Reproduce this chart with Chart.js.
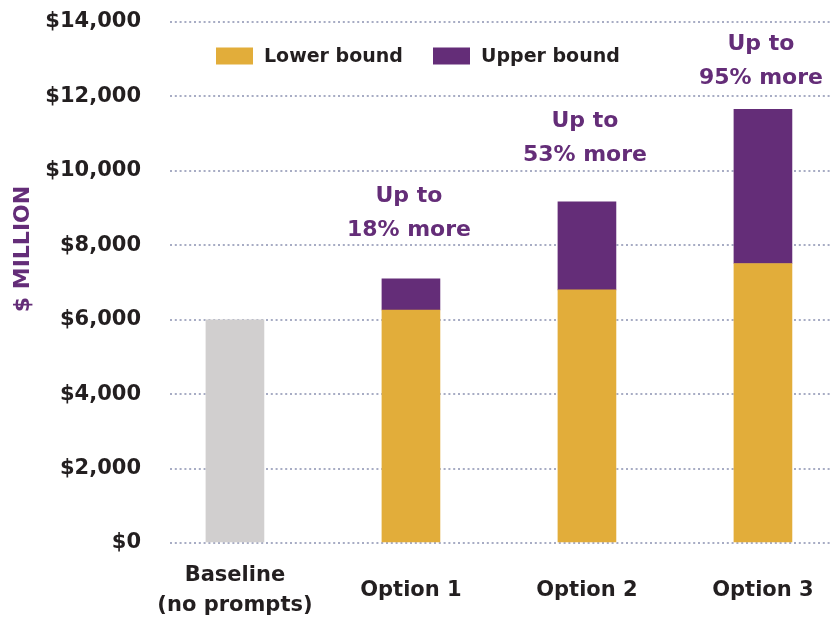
<!DOCTYPE html>
<html><head><meta charset="utf-8">
<script src="https://cdn.jsdelivr.net/npm/chart.js@4"></script>
<style>html,body{margin:0;padding:0;background:#fff;overflow:hidden}#wrap{width:837px;height:618px;position:relative}</style>
</head><body><div id="wrap"><canvas id="c" width="837" height="618"></canvas></div>
<script>
// ---- data ----
const categories = [['Baseline', '(no prompts)'], 'Option 1', 'Option 2', 'Option 3'];
const baselineValues = [6000, null, null, null];
const lowerBound = [null, 6260, 6800, 7510];
const upperBoundTotal = [null, 7100, 9170, 11650];
const annotationLines = [null, ['Up to', '18% more'], ['Up to', '53% more'], ['Up to', '95% more']];
const legendLabels = ['Lower bound', 'Upper bound'];
const yAxisTitle = '$ MILLION';
const yTickValues = [0, 2000, 4000, 6000, 8000, 10000, 12000, 14000];

// ---- style ----
const FONT = "'DejaVu Sans', sans-serif";
const COLORS = { gold: '#e2ad3a', purple: '#642d78', gray: '#d1cfcf', text: '#231f20', grid: '#a7acc4' };
const annotationGap = [0, 48, 46, 31]; // px above bar top for second line

const pts = (arr) => arr.map((v, i) => (v == null ? null : { x: i, y: v })).filter(Boolean);

const overlayPlugin = {
  id: 'overlay',
  afterDatasetsDraw(chart) {
    const { ctx, chartArea } = chart;
    const xs = chart.scales.x, ys = chart.scales.y;
    ctx.save();
    // annotations
    ctx.fillStyle = COLORS.purple;
    ctx.font = `bold 22px ${FONT}`;
    ctx.textAlign = 'center';
    ctx.textBaseline = 'middle';
    annotationLines.forEach((lines, i) => {
      if (!lines) return;
      const cx = xs.getPixelForValue(i) - 2;
      const top = ys.getPixelForValue(upperBoundTotal[i]);
      const y2 = top - annotationGap[i];
      ctx.fillText(lines[0], cx, y2 - 34);
      ctx.fillText(lines[1], cx, y2);
    });
    // legend
    const items = [
      { label: legendLabels[0], color: COLORS.gold, x: chartArea.left + 46 },
      { label: legendLabels[1], color: COLORS.purple, x: chartArea.left + 263 }
    ];
    ctx.font = `bold 19px ${FONT}`;
    ctx.textAlign = 'left';
    const cy = chartArea.top + 34;
    items.forEach(it => {
      ctx.fillStyle = it.color;
      ctx.fillRect(it.x, cy - 8.5, 37, 17);
      ctx.fillStyle = COLORS.text;
      ctx.fillText(it.label, it.x + 48, cy + 1);
    });
    // y axis title
    ctx.translate(23, 249);
    ctx.rotate(-Math.PI / 2);
    ctx.fillStyle = COLORS.purple;
    ctx.font = `bold 22px ${FONT}`;
    ctx.textAlign = 'center';
    ctx.fillText(yAxisTitle, 0, 0);
    ctx.restore();
  }
};

new Chart(document.getElementById('c'), {
  type: 'bar',
  data: {
    datasets: [
      { label: 'Baseline', data: pts(baselineValues), backgroundColor: COLORS.gray, barThickness: 58 },
      { label: legendLabels[0], data: pts(lowerBound), backgroundColor: COLORS.gold, barThickness: 58 },
      { label: legendLabels[1], data: pts(upperBoundTotal.map((t, i) => (t == null ? null : t - lowerBound[i]))), backgroundColor: COLORS.purple, barThickness: 58 }
    ]
  },
  options: {
    responsive: false,
    animation: false,
    layout: { padding: { top: 22, right: 7, left: 0, bottom: 0 } },
    plugins: { legend: { display: false }, tooltip: { enabled: false } },
    scales: {
      x: {
        type: 'linear',
        stacked: true,
        offset: false,
        min: -0.369,
        max: 3.381,
        grid: { display: true, drawOnChartArea: false, drawTicks: true, tickLength: 33, tickColor: 'rgba(0,0,0,0)', offset: false },
        border: { display: false },
        afterBuildTicks: (s) => { s.ticks = categories.map((_, i) => ({ value: i })); },
        afterFit: (s) => { s.height = 75; },
        ticks: {
          autoSkip: false,
          maxRotation: 0,
          padding: 0,
          crossAlign: 'center',
          color: COLORS.text,
          font: { family: FONT, size: 21, weight: 'bold', lineHeight: '30px' },
          callback: (v) => categories[v]
        }
      },
      y: {
        stacked: true,
        min: 0,
        max: 14000,
        afterBuildTicks: (s) => { s.ticks = yTickValues.map(v => ({ value: v })); },
        afterFit: (s) => { s.width = 170; },
        grid: { color: COLORS.grid, lineWidth: 2, drawTicks: true, tickLength: 29, tickColor: 'rgba(0,0,0,0)' },
        border: { display: false, dash: [2, 2.8] },
        ticks: {
          padding: 0,
          color: COLORS.text,
          font: { family: FONT, size: 21, weight: 'bold' },
          callback: (v) => '$' + v.toLocaleString('en-US')
        }
      }
    }
  },
  plugins: [overlayPlugin]
});
</script>
</body></html>
